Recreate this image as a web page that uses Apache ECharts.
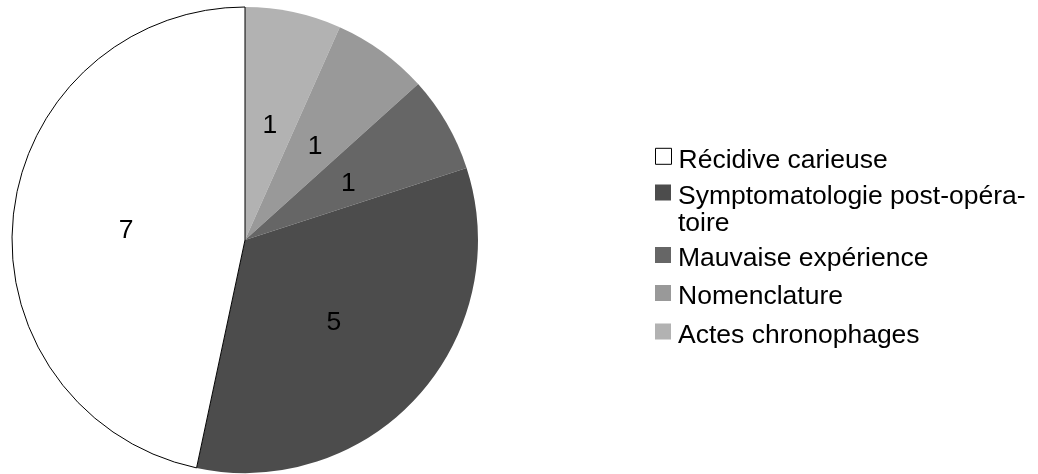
<!DOCTYPE html>
<html><head><meta charset="utf-8">
<script src="https://cdn.jsdelivr.net/npm/echarts@6/dist/echarts.min.js"></script>
<style>html,body{margin:0;padding:0;background:#fff}#c{width:1038px;height:474px}</style>
</head><body><div id="c"></div>
<script>
const categories = ["Récidive carieuse", "Symptomatologie post-opératoire", "Mauvaise expérience", "Nomenclature", "Actes chronophages"];
const values = [7, 5, 1, 1, 1];
const colors = ["#ffffff", "#4c4c4c", "#666666", "#999999", "#b2b2b2"];
const legendLabels = {"Symptomatologie post-opératoire": "\nSymptomatologie post-opéra-\ntoire"};
// vertical centre of each legend marker (first text line)
const legendRows = [156.3, 192.5, 255, 293, 331.5];

const LINE_H = 27;
const ICON_H = 24;  // 16px square at top of a 24px-tall icon box, so text sits a little lower than the square
const legends = categories.map((name, i) => {
  const label = legendLabels[name] || name;
  const lines = label.split('\n').length;
  return {
    orient: 'vertical', left: 655, padding: 0,
    top: legendRows[i] - 8 - (lines * LINE_H / 2 - ICON_H / 2),
    data: [{name: name, itemStyle: i === 0 ? {color: colors[i], borderColor: '#000', borderWidth: 1} : {color: colors[i], borderWidth: 0}}],
    itemWidth: 16, itemHeight: ICON_H,
    icon: 'path://M0,0H16V16H0ZM0,24L0.01,24',
    selectedMode: false,
    formatter: n => legendLabels[n] || n,
    textStyle: {fontFamily: 'Liberation Sans', fontSize: 26.5, color: '#000', lineHeight: LINE_H, padding: [0, 0, 0, 2]}
  };
});

// pie drawn clockwise from top in reverse legend order
const order = [4, 3, 2, 1, 0];
const pieData = order.map(i => ({
  name: categories[i], value: values[i],
  itemStyle: i === 0 ? {color: colors[i], borderColor: '#000', borderWidth: 1} : {color: colors[i], borderWidth: 0}
}));

const chart = echarts.init(document.getElementById('c'), null, {renderer: 'canvas'});
chart.setOption({
  animation: false,
  legend: legends,
  series: [{
    type: 'pie', center: [245, 240], radius: [0, 233],
    startAngle: 90, clockwise: true,
    data: pieData,
    label: {show: true, position: 'inside', formatter: '{c}', fontFamily: 'Liberation Sans', fontSize: 26.5, color: '#000', offset: [0, 3]},
    labelLine: {show: false},
    emphasis: {disabled: true}
  }]
});
</script></body></html>
